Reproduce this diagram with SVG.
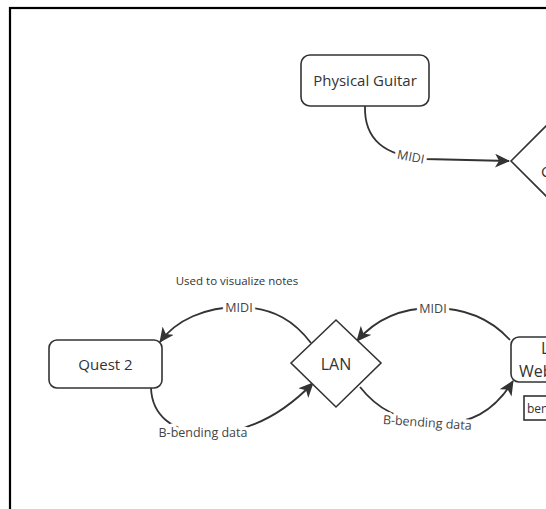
<svg xmlns="http://www.w3.org/2000/svg" width="546" height="509" viewBox="0 0 546 509">
<style>
.box{fill:#fff;stroke:#333;stroke-width:1.6}
.t{font-family:"Open Sans","Liberation Sans",sans-serif;fill:#333;text-anchor:middle}
.lbl{font-family:"Open Sans","Liberation Sans",sans-serif;fill:#444;font-size:12.5px;text-anchor:middle;stroke:#fff;stroke-width:7;paint-order:stroke;stroke-linejoin:round}
.c{fill:none;stroke:#333;stroke-width:1.8}
</style>
<defs>
<marker id="ah" markerUnits="userSpaceOnUse" markerWidth="16" markerHeight="14" refX="14" refY="7" orient="auto">
<path d="M0,0 L15,7 L0,14 L4,7 z" fill="#333"/>
</marker>
</defs>
<rect width="546" height="509" fill="#fff"/>
<rect x="10" y="8" width="600" height="560" fill="none" stroke="#000" stroke-width="2.2"/>

<g id="connectors">
<path class="c" d="M365,106 C364,140 385,156 425,159 L509,161" marker-end="url(#ah)"/>
<path class="c" d="M311,343 C295,322 275,308 240,307 C205,307 176,320 160,342" marker-end="url(#ah)"/>
<path class="c" d="M151,388 C152,415 172,432 205,433 C245,434 282,415 313,383" marker-end="url(#ah)"/>
<path class="c" d="M510,340 C490,318 465,308 433,308 C400,308 375,320 357,341" marker-end="url(#ah)"/>
<path class="c" d="M360,387 C378,410 400,420 430,423 C470,427 495,410 513,381" marker-end="url(#ah)"/>
<text class="lbl" transform="translate(410,161) rotate(11)">MIDI</text>
<text class="lbl" x="239" y="312">MIDI</text>
<text class="lbl" x="433" y="313">MIDI</text>
<text class="lbl" x="203" y="437">B-bending data</text>
<text class="lbl" transform="translate(427,427) rotate(4)">B-bending data</text>
</g>

<g id="note">
<text class="t" x="237" y="285" font-size="11.5">Used to visualize notes</text>
</g>

<g id="physical-guitar">
<rect class="box" x="301" y="55" width="128" height="51" rx="9"/>
<text class="t" x="365" y="86" font-size="15">Physical Guitar</text>
</g>

<g id="right-diamond">
<polygon class="box" points="511,161 556,116 601,161 556,206"/>
<text class="t" x="541" y="177" font-size="15" style="text-anchor:start">C</text>
</g>

<g id="quest2">
<rect class="box" x="49" y="340" width="113" height="48" rx="8"/>
<text class="t" x="105.5" y="370" font-size="15">Quest 2</text>
</g>

<g id="lan">
<polygon class="box" points="291,363 336,320 381,363 336,407"/>
<text class="t" x="336" y="370" font-size="16">LAN</text>
</g>

<g id="laptop">
<rect class="box" x="511" y="337" width="110" height="45" rx="8"/>
<text class="t" x="541" y="354" font-size="16" style="text-anchor:start">L</text>
<text class="t" x="519" y="377" font-size="16" style="text-anchor:start">Web</text>
</g>

<g id="bending-box">
<rect x="524" y="396" width="60" height="24" fill="#fff" stroke="#333" stroke-width="1.6"/>
<text class="t" x="527" y="413" font-size="12" style="text-anchor:start">ben</text>
</g>
</svg>
